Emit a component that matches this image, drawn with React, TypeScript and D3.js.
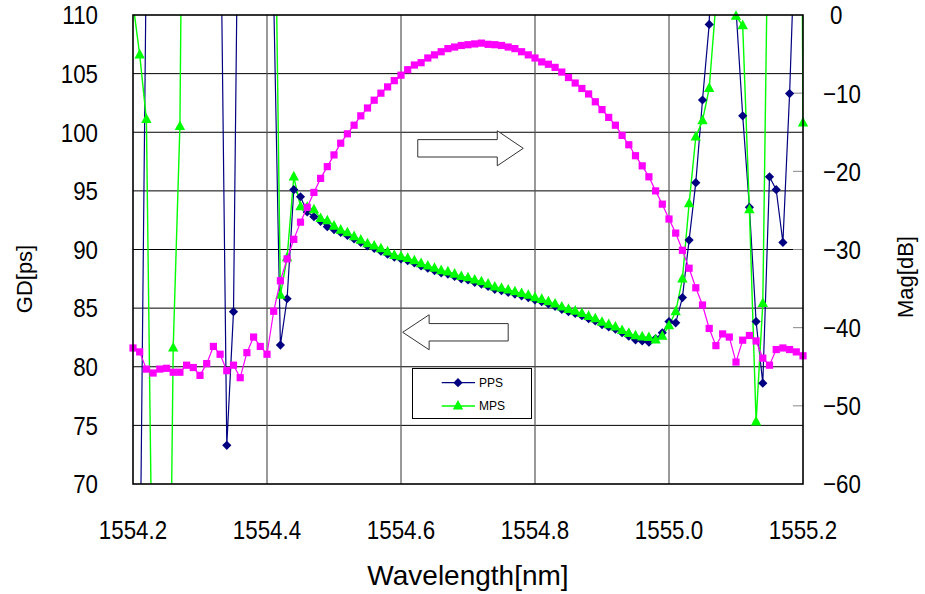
import React from "react";
import * as d3 from "d3";

const width = 925;
const height = 594;
const plot = { left: 133, right: 803, top: 15, bottom: 484 };

// wavelength grid, one sample every 0.01 nm
const wavelengths = d3.range(101).map((i) => +(1554.2 + i * 0.01).toFixed(2));

// group delay [ps], PPS
const pps = [
  60, 59, 116, 140, 150, 160, 150, 140, 150, 160,
  150, 140, 150, 123, 73.3, 84.7, 137.6, 150, 160, 150,
  140, 111.5, 81.85, 85.8, 95.1, 94.5, 93.2, 92.8, 92.4, 91.95,
  91.7, 91.45, 91.2, 90.9, 90.6, 90.3, 90.1, 89.85, 89.6, 89.35,
  89.2, 89.05, 88.85, 88.6, 88.4, 88.2, 88.0, 87.9, 87.7, 87.5,
  87.4, 87.2, 87.05, 86.85, 86.6, 86.5, 86.35, 86.2, 86.05, 85.9,
  85.7, 85.55, 85.35, 85.15, 84.9, 84.7, 84.55, 84.35, 84.1, 83.9,
  83.6, 83.4, 83.2, 82.9, 82.6, 82.3, 82.2, 82.1, 82.4, 82.9,
  83.85, 83.75, 85.9, 90.8, 95.7, 102.75, 109.2, 135, 150, 140,
  110.5, 101.4, 93.6, 83.85, 78.6, 96.2, 95.1, 90.6, 103.3, 120,
  150,
];

// group delay [ps], MPS
const mps = [
  111, 106.6, 101.1, 55, 40, 30, 81.6, 100.5, 165, 170,
  160, 150, 140, 150, 160, 150, 140, 150, 160, 150,
  140, 130, 86.1, 89.3, 96.2, 93.65, 93.6, 93.4, 92.65, 92.45,
  92.0, 91.66, 91.43, 91.1, 90.8, 90.5, 90.3, 90.07, 89.8, 89.5,
  89.4, 89.25, 89.05, 88.8, 88.6, 88.4, 88.2, 88.1, 87.9, 87.7,
  87.6, 87.4, 87.25, 87.05, 86.8, 86.7, 86.55, 86.4, 86.25, 86.1,
  85.9, 85.75, 85.55, 85.35, 85.1, 84.9, 84.75, 84.55, 84.3, 84.1,
  83.8, 83.6, 83.4, 83.1, 82.85, 82.65, 82.55, 82.5, 82.3, 82.6,
  83.5, 84.7, 87.5, 93.9, 99.6, 101, 103.75, 111, 125, 118,
  109.9, 109.1, 93.4, 75.3, 85.4, 128, 150, 160, 150, 200,
  100.8,
];

// magnitude [dB]
const mag = [
  -42.6, -43.1, -45.3, -45.8, -45.3, -45.2, -45.7, -45.7, -44.8, -45.1,
  -46.1, -44.6, -42.4, -43.4, -45.5, -44.8, -46.4, -43.2, -41.2, -42.4,
  -43.4, -37.9, -34.0, -31.2, -28.7, -26.5, -24.6, -22.7, -20.9, -19.4,
  -17.9, -16.4, -15.2, -14.1, -12.9, -11.9, -10.9, -10.0, -9.2, -8.4,
  -7.7, -7.0, -6.4, -6.1, -5.5, -5.1, -4.7, -4.3, -4.1, -3.9,
  -3.8, -3.7, -3.6, -3.75, -3.8, -3.9, -4.1, -4.3, -4.7, -5.1,
  -5.5, -6.0, -6.3, -6.7, -7.3, -8.0, -8.7, -9.4, -10.1, -11.1,
  -12.1, -13.1, -14.1, -15.4, -16.6, -18.0, -19.3, -20.7, -22.5, -24.2,
  -26.1, -27.9, -30.1, -32.4, -34.9, -37.1, -40.1, -42.3, -40.8, -41.2,
  -44.4, -41.6, -41.0, -41.7, -43.9, -44.8, -42.8, -42.6, -42.8, -43.1,
  -43.6,
];

const xTicks = [1554.2, 1554.4, 1554.6, 1554.8, 1555.0, 1555.2];
const gdTicks = [70, 75, 80, 85, 90, 95, 100, 105, 110];
const magTicks = [-60, -50, -40, -30, -20, -10, 0];

const font = "'Liberation Sans', Arial, sans-serif";
const NAVY = "#000080";
const GREEN = "#00ff00";
const MAGENTA = "#ff00ff";

const diamond = "M0,-4.6L4.6,0L0,4.6L-4.6,0Z";
const triangle = "M0,-6L5.2,3.6L-5.2,3.6Z";

// narrow, tall tick lettering
const squeeze = "scale(0.86,1)";
const tickSize = 26;

function fmt(v: number) {
  return v.toFixed(1);
}

export default function App() {
  const x = d3.scaleLinear().domain([1554.2, 1555.2]).range([plot.left, plot.right]);
  const yL = d3.scaleLinear().domain([70, 110]).range([plot.bottom, plot.top]);
  const yR = d3.scaleLinear().domain([-60, 0]).range([plot.bottom, plot.top]);

  const lineL = d3
    .line<number>()
    .x((d, i) => x(wavelengths[i]))
    .y((d) => yL(d));
  const lineR = d3
    .line<number>()
    .x((d, i) => x(wavelengths[i]))
    .y((d) => yR(d));

  const inL = (v: number) => v >= 70 && v <= 110;
  const inR = (v: number) => v >= -60 && v <= 0;

  // arrow annotations
  const arrow = (tail: number, base: number, tip: number, cy: number) => {
    const b = 8.7;
    const h = 17.5;
    return `M${tail},${cy - b}L${base},${cy - b}L${base},${cy - h}L${tip},${cy}L${base},${cy + h}L${base},${cy + b}L${tail},${cy + b}Z`;
  };
  const rightArrow = arrow(x(1554.625), x(1554.7437), x(1554.7825), yL(98.63));
  const leftArrow = arrow(x(1554.76), x(1554.642), x(1554.6025), yL(82.94));

  return (
    <svg
      width={width}
      height={height}
      style={{ position: "absolute", left: 0, top: 0, background: "#fff" }}
    >
      <defs>
        <clipPath id="plotClip">
          <rect x={plot.left} y={plot.top} width={plot.right - plot.left} height={plot.bottom - plot.top} />
        </clipPath>
      </defs>

      {/* grid */}
      {gdTicks.slice(1, -1).map((t) => (
        <line key={"h" + t} x1={plot.left} x2={plot.right} y1={yL(t)} y2={yL(t)} stroke="#000" strokeWidth={1} />
      ))}
      {xTicks.slice(1, -1).map((t) => (
        <line key={"v" + t} x1={x(t)} x2={x(t)} y1={plot.top} y2={plot.bottom} stroke="#555" strokeWidth={1.2} />
      ))}
      {magTicks.slice(1, -1).map((t) => (
        <line key={"rt" + t} x1={plot.right - 10} x2={plot.right} y1={yR(t)} y2={yR(t)} stroke="#888" strokeWidth={1} />
      ))}

      {/* arrows */}
      <path d={rightArrow} fill="#fff" stroke="#333" strokeWidth={1} />
      <path d={leftArrow} fill="#fff" stroke="#333" strokeWidth={1} />

      {/* series lines */}
      <g clipPath="url(#plotClip)">
        <path d={lineL(pps) ?? ""} fill="none" stroke={NAVY} strokeWidth={1.2} />
        <path d={lineL(mps) ?? ""} fill="none" stroke={GREEN} strokeWidth={1.4} />
      </g>
      {pps.map((v, i) =>
        inL(v) ? (
          <path key={"p" + i} d={diamond} transform={`translate(${x(wavelengths[i])},${yL(v)})`} fill={NAVY} />
        ) : null
      )}
      {mps.map((v, i) =>
        inL(v) ? (
          <path key={"m" + i} d={triangle} transform={`translate(${x(wavelengths[i])},${yL(v)})`} fill={GREEN} />
        ) : null
      )}
      <g clipPath="url(#plotClip)">
        <path d={lineR(mag) ?? ""} fill="none" stroke={MAGENTA} strokeWidth={1.2} />
      </g>
      {mag.map((v, i) =>
        inR(v) ? (
          <rect key={"g" + i} x={x(wavelengths[i]) - 3.6} y={yR(v) - 3.6} width={7.2} height={7.2} fill={MAGENTA} />
        ) : null
      )}

      {/* frame */}
      <rect
        x={plot.left}
        y={plot.top}
        width={plot.right - plot.left}
        height={plot.bottom - plot.top}
        fill="none"
        stroke="#000"
        strokeWidth={1.6}
      />

      {/* legend */}
      <g>
        <rect x={412.5} y={368.5} width={119} height={50} fill="#fff" stroke="#000" strokeWidth={1} />
        <line x1={441.7} x2={475} y1={382.7} y2={382.7} stroke={NAVY} strokeWidth={1.2} />
        <path d={diamond} transform="translate(458,382.7)" fill={NAVY} />
        <text x={479} y={382.7} dy="0.35em" fontFamily={font} fontSize={12}>
          PPS
        </text>
        <line x1={441.7} x2={475} y1={406} y2={406} stroke={GREEN} strokeWidth={1.4} />
        <path d={triangle} transform="translate(458,406)" fill={GREEN} />
        <text x={479} y={406} dy="0.35em" fontFamily={font} fontSize={12}>
          MPS
        </text>
      </g>

      {/* tick labels */}
      {gdTicks.map((t) => (
        <text
          key={"lt" + t}
          transform={`translate(98,${yL(t)}) ${squeeze}`}
          dy="0.36em"
          textAnchor="end"
          fontFamily={font}
          fontSize={tickSize}
        >
          {t}
        </text>
      ))}
      {magTicks.map((t) => (
        <text
          key={"rl" + t}
          transform={`translate(${t === 0 ? 830 : 823},${yR(t)}) ${squeeze}`}
          dy="0.36em"
          textAnchor="start"
          fontFamily={font}
          fontSize={tickSize}
        >
          {t < 0 ? "\u2212" + Math.abs(t) : t}
        </text>
      ))}
      {xTicks.map((t) => (
        <text
          key={"xt" + t}
          transform={`translate(${x(t)},530) ${squeeze}`}
          dy="0.36em"
          textAnchor="middle"
          fontFamily={font}
          fontSize={tickSize}
        >
          {fmt(t)}
        </text>
      ))}

      {/* axis titles */}
      <text x={468} y={585} textAnchor="middle" fontFamily={font} fontSize={28}>
        Wavelength[nm]
      </text>
      <text transform="translate(24,279) rotate(-90)" dy="0.36em" textAnchor="middle" fontFamily={font} fontSize={22}>
        GD[ps]
      </text>
      <text transform="translate(905,277) rotate(-90)" dy="0.36em" textAnchor="middle" fontFamily={font} fontSize={22}>
        Mag[dB]
      </text>
    </svg>
  );
}
